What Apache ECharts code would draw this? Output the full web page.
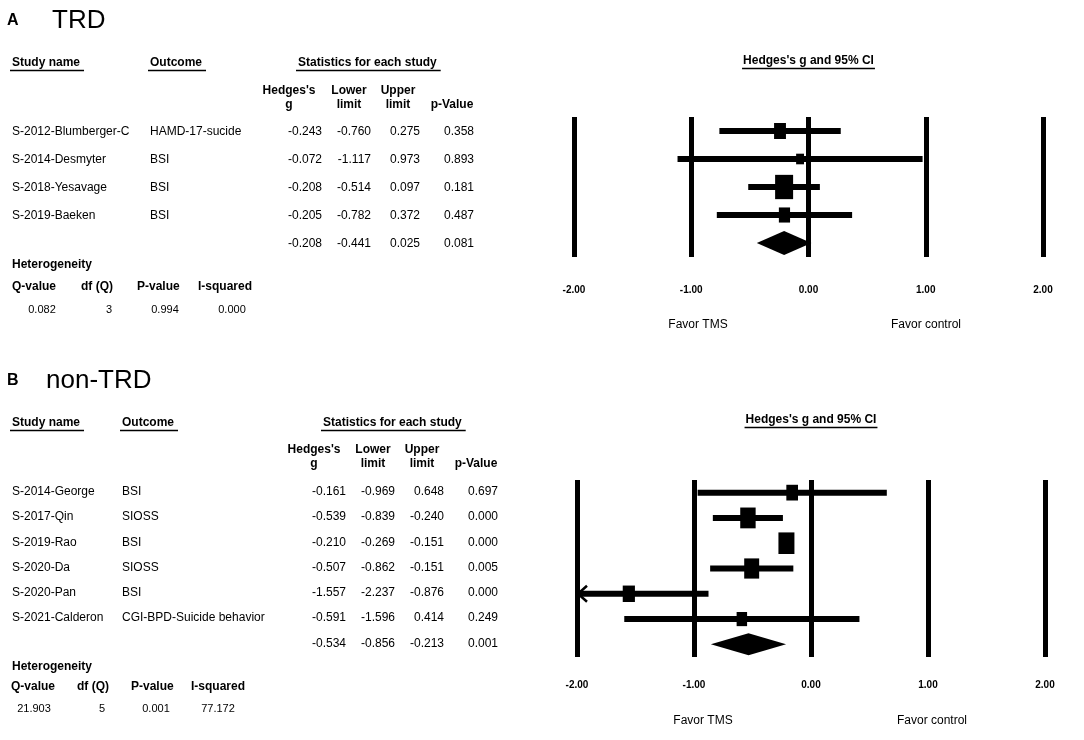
<!DOCTYPE html>
<html>
<head>
<meta charset="utf-8">
<script src="https://cdn.jsdelivr.net/npm/echarts@6/dist/echarts.min.js"></script>
<style>
  html, body { margin: 0; padding: 0; background: #fff; }
  #main { width: 1084px; height: 740px; }
</style>
</head>
<body>
<div id="main"></div>
<script>
// ---- panel A : TRD ----
const trdStudies = ['S-2012-Blumberger-C', 'S-2014-Desmyter', 'S-2018-Yesavage', 'S-2019-Baeken'];
const trdOutcomes = ['HAMD-17-sucide', 'BSI', 'BSI', 'BSI'];
const trdG = [-0.243, -0.072, -0.208, -0.205];
const trdLower = [-0.760, -1.117, -0.514, -0.782];
const trdUpper = [0.275, 0.973, 0.097, 0.372];
const trdP = [0.358, 0.893, 0.181, 0.487];
const trdWeight = [20, 6, 57, 17];            // relative weights
const trdPooled = [-0.208, -0.441, 0.025, 0.081];
const trdHetero = [0.082, 3, 0.994, 0.000];

// ---- panel B : non-TRD ----
const nonStudies = ['S-2014-George', 'S-2017-Qin', 'S-2019-Rao', 'S-2020-Da', 'S-2020-Pan', 'S-2021-Calderon'];
const nonOutcomes = ['BSI', 'SIOSS', 'BSI', 'SIOSS', 'BSI', 'CGI-BPD-Suicide behavior'];
const nonG = [-0.161, -0.539, -0.210, -0.507, -1.557, -0.591];
const nonLower = [-0.969, -0.839, -0.269, -0.862, -2.237, -1.596];
const nonUpper = [0.648, -0.240, -0.151, -0.151, -0.876, 0.414];
const nonP = [0.697, 0.000, 0.000, 0.005, 0.000, 0.249];
const nonWeight = [11, 22.6, 24.8, 21, 12.4, 8.2];
const nonPooled = [-0.534, -0.856, -0.213, 0.001];
const nonHetero = [21.903, 5, 0.001, 77.172];

// shared labels
const heteroHeads = ['Q-value', 'df (Q)', 'P-value', 'I-squared'];
const heteroDigits = [3, 0, 3, 3];
const colHeads = [['Hedges\'s', 'g'], ['Lower', 'limit'], ['Upper', 'limit'], ['', 'p-Value']];
const axisMin = -2, axisMax = 2, axisStep = 1;

const FONT = '"Liberation Sans", Arial, sans-serif';
const measure = document.createElement('canvas').getContext('2d');
function textW(s, size, weight) {
    measure.font = weight + ' ' + size + 'px ' + FONT;
    return measure.measureText(s).width;
}

const panels = [
    {
        letter: 'A', name: 'TRD',
        studies: trdStudies, outcomes: trdOutcomes, g: trdG, lower: trdLower, upper: trdUpper,
        p: trdP, weight: trdWeight, pooled: trdPooled, hetero: trdHetero,
        lay: {
            labelY: 21, nameX: 52, headY: 63, outcomeX: 150, statsX: 298,
            colRight: [322, 371, 420, 474], colHeadX: [289, 349, 398, 452], colHeadY: 91,
            heteroY: 265, heteroHeadY: 287, heteroValY: 310,
            heteroHeadX: [12, 81, 137, 198], heteroValX: [42, 109, 165, 232],
            grid: { left: 574, top: 117, width: 469, height: 140 }, labelMargin: 28,
            plotTitleY: 61, favorY: 325, favorX: [698, 926], boxMax: 18, diamondH: 12, rowShift: 1
        }
    },
    {
        letter: 'B', name: 'non-TRD',
        studies: nonStudies, outcomes: nonOutcomes, g: nonG, lower: nonLower, upper: nonUpper,
        p: nonP, weight: nonWeight, pooled: nonPooled, hetero: nonHetero,
        lay: {
            labelY: 381, nameX: 46, headY: 423, outcomeX: 122, statsX: 323,
            colRight: [346, 395, 444, 498], colHeadX: [314, 373, 422, 476], colHeadY: 450,
            heteroY: 667, heteroHeadY: 687, heteroValY: 709,
            heteroHeadX: [11, 77, 131, 191], heteroValX: [34, 102, 156, 218],
            grid: { left: 577, top: 480, width: 468, height: 177 }, labelMargin: 23,
            plotTitleY: 420, favorY: 721, favorX: [703, 932], boxMax: 16, diamondH: 11, rowShift: -1
        }
    }
];

function textEl(x, y, s, size, weight, align) {
    return {
        type: 'text', x: x, y: y, silent: true,
        style: {
            text: s, font: weight + ' ' + size + 'px ' + FONT, fill: '#000',
            align: align || 'left', textAlign: align || 'left',
            verticalAlign: 'middle', textVerticalAlign: 'middle'
        }
    };
}
function underline(x1, x2, y) {
    return { type: 'line', silent: true, shape: { x1: x1, y1: y, x2: x2, y2: y }, style: { stroke: '#000', lineWidth: 1.3 } };
}

function panelGraphics(pn) {
    const L = pn.lay;
    const out = [];
    out.push(textEl(7, L.labelY, pn.letter, 16, 'bold'));
    out.push(textEl(L.nameX, L.labelY, pn.name, 26, 'normal'));
    // table headers
    [['Study name', 12], ['Outcome', L.outcomeX], ['Statistics for each study', L.statsX]].forEach(function (h) {
        out.push(textEl(h[1], L.headY, h[0], 12, 'bold'));
        out.push(underline(h[1] - 2, h[1] + textW(h[0], 12, 'bold') + 4, L.headY + 7.5));
    });
    colHeads.forEach(function (h, k) {
        if (h[0]) out.push(textEl(L.colHeadX[k], L.colHeadY, h[0], 12, 'bold', 'center'));
        out.push(textEl(L.colHeadX[k], L.colHeadY + 14, h[1], 12, 'bold', 'center'));
    });
    // heterogeneity block
    out.push(textEl(12, L.heteroY, 'Heterogeneity', 12, 'bold'));
    heteroHeads.forEach(function (h, k) {
        out.push(textEl(L.heteroHeadX[k], L.heteroHeadY, h, 12, 'bold'));
        out.push(textEl(L.heteroValX[k], L.heteroValY, pn.hetero[k].toFixed(heteroDigits[k]), 11, 'normal', 'center'));
    });
    // plot heading and favour labels
    const t = 'Hedges\'s g and 95% CI';
    const cx = L.grid.left + L.grid.width / 2;
    const tw = textW(t, 12, 'bold');
    out.push(textEl(cx, L.plotTitleY, t, 12, 'bold', 'center'));
    out.push(underline(cx - tw / 2 - 1, cx + tw / 2 + 1, L.plotTitleY + 7.5));
    out.push(textEl(L.favorX[0], L.favorY, 'Favor TMS', 12, 'normal', 'center'));
    out.push(textEl(L.favorX[1], L.favorY, 'Favor control', 12, 'normal', 'center'));
    return out;
}

function tableSeries(pn, gi) {
    const L = pn.lay;
    const n = pn.studies.length;
    const rows = pn.studies.map(function (s, i) { return [0, i + 1]; });
    rows.push([0, n + 1]);
    return {
        type: 'custom', xAxisIndex: gi, yAxisIndex: gi, clip: false, silent: true,
        data: rows,
        renderItem: function (params, api) {
            const i = params.dataIndex;
            const y = api.coord([0, api.value(1)])[1] + L.rowShift;
            const vals = i < n ? [pn.g[i], pn.lower[i], pn.upper[i], pn.p[i]] : pn.pooled;
            const children = [];
            if (i < n) {
                children.push(textEl(12, y, pn.studies[i], 12, 'normal'));
                children.push(textEl(L.outcomeX, y, pn.outcomes[i], 12, 'normal'));
            }
            vals.forEach(function (v, k) {
                children.push(textEl(L.colRight[k], y, v.toFixed(3), 12, 'normal', 'right'));
            });
            return { type: 'group', children: children };
        }
    };
}

function forestSeries(pn, gi) {
    const L = pn.lay;
    const maxW = Math.max.apply(null, pn.weight);
    const data = pn.g.map(function (g, i) { return [g, i + 1, pn.lower[i], pn.upper[i], pn.weight[i]]; });
    return {
        type: 'custom', xAxisIndex: gi, yAxisIndex: gi, clip: false, silent: true,
        data: data,
        renderItem: function (params, api) {
            const row = api.value(1);
            const lo = api.value(2), hi = api.value(3);
            const c = api.coord([api.value(0), row]);
            const a = api.coord([Math.max(lo, axisMin), row]);
            const b = api.coord([Math.min(hi, axisMax), row]);
            const w = 3 + (L.boxMax - 3) * Math.sqrt(api.value(4) / maxW);
            const h = w * 1.35;
            const children = [
                { type: 'line', shape: { x1: a[0], y1: a[1], x2: b[0], y2: b[1] }, style: { stroke: '#000', lineWidth: 6 } },
                { type: 'rect', shape: { x: c[0] - w / 2, y: c[1] - h / 2, width: w, height: h }, style: { fill: '#000' } }
            ];
            if (lo < axisMin) {
                children.push({
                    type: 'polyline',
                    shape: { points: [[a[0] + 10, a[1] - 8], [a[0] + 1, a[1]], [a[0] + 10, a[1] + 8]] },
                    style: { stroke: '#000', lineWidth: 2.5, fill: null }
                });
            }
            return { type: 'group', children: children };
        }
    };
}

function diamondSeries(pn, gi) {
    const L = pn.lay;
    const row = pn.studies.length + 1;
    return {
        type: 'custom', xAxisIndex: gi, yAxisIndex: gi, clip: false, silent: true,
        data: [[pn.pooled[0], row, pn.pooled[1], pn.pooled[2]]],
        renderItem: function (params, api) {
            const r = api.value(1);
            const c = api.coord([api.value(0), r]);
            const a = api.coord([api.value(2), r]);
            const b = api.coord([api.value(3), r]);
            return {
                type: 'polygon',
                shape: { points: [[a[0], a[1]], [c[0], c[1] - L.diamondH], [b[0], b[1]], [c[0], c[1] + L.diamondH]] },
                style: { fill: '#000' }
            };
        }
    };
}

const option = {
    animation: false,
    backgroundColor: '#fff',
    grid: panels.map(function (pn) { return Object.assign({ containLabel: false }, pn.lay.grid); }),
    xAxis: panels.map(function (pn, gi) {
        return {
            type: 'value', gridIndex: gi, min: axisMin, max: axisMax, interval: axisStep,
            axisLine: { show: false }, axisTick: { show: false },
            splitLine: { show: true, lineStyle: { color: '#000', width: 5, type: 'solid' } },
            axisLabel: {
                margin: pn.lay.labelMargin, color: '#000', fontSize: 10, fontWeight: 'bold', fontFamily: FONT,
                formatter: function (v) { return v.toFixed(2); }
            }
        };
    }),
    yAxis: panels.map(function (pn, gi) {
        return {
            type: 'value', gridIndex: gi, inverse: true, min: 0.5, max: pn.studies.length + 1.5,
            show: false, splitLine: { show: false }
        };
    }),
    series: [].concat.apply([], panels.map(function (pn, gi) {
        return [tableSeries(pn, gi), forestSeries(pn, gi), diamondSeries(pn, gi)];
    })),
    graphic: [].concat.apply([], panels.map(panelGraphics))
};

const myChart = echarts.init(document.getElementById('main'));
myChart.setOption(option);
</script>
</body>
</html>
